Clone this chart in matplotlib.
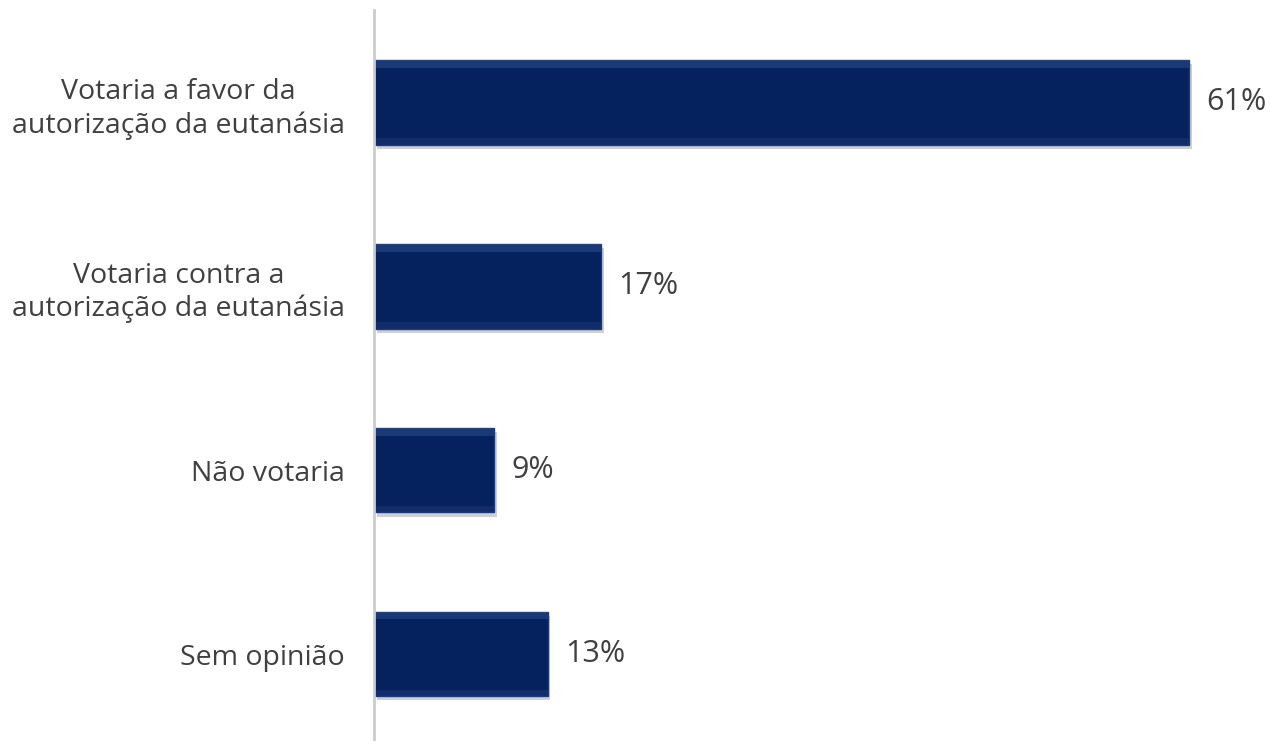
import matplotlib.pyplot as plt
import matplotlib.patheffects as pe

categories = ['Votaria a favor da\nautorização da eutanásia',
              'Votaria contra a\nautorização da eutanásia',
              'Não votaria',
              'Sem opinião']
values = [61, 17, 9, 13]

plt.rcParams['font.family'] = ['Open Sans', 'DejaVu Sans']

fig = plt.figure(figsize=(12.7, 7.41), dpi=100)
a = fig.add_axes([374 / 1270, 0, 1 - 374 / 1270, 731 / 741])

y = list(range(len(categories)))
bars = a.barh(y, values, height=0.46, color='#05215e', edgecolor='#1c3a78', linewidth=1.0)
for b in bars:
    b.set_path_effects([pe.SimplePatchShadow(offset=(2, -3), shadow_rgbFace='#666666', alpha=0.3),
                        pe.Normal()])
    # bevel: lighter band on top, slightly lighter band at bottom
    x0, y0, w, h = b.get_x(), b.get_y(), b.get_width(), b.get_height()
    a.add_patch(plt.Rectangle((x0, y0), w, h * 0.09, color='#2d4d8d', alpha=0.55, lw=0))
    a.add_patch(plt.Rectangle((x0, y0 + h * 0.92), w, h * 0.08, color='#1a3572', alpha=0.6, lw=0))

for yi, v in zip(y, values):
    a.text(v + 1.3, yi, f'{v}%', va='center', ha='left', fontsize=22, color='#404040')

a.set_xlim(0, 896 / 13.36)
a.set_ylim(3.473, -0.503)
a.set_yticks(y)
a.set_yticklabels(categories, fontsize=20.5, color='#404040', ha='right',
                  multialignment='center', linespacing=1.25)
a.tick_params(axis='y', length=0, pad=21)
a.set_xticks([])
for s in ['top', 'right', 'bottom']:
    a.spines[s].set_visible(False)
a.spines['left'].set_color('#cccccc')
a.spines['left'].set_linewidth(2)

fig.savefig('out.png', dpi=100)
